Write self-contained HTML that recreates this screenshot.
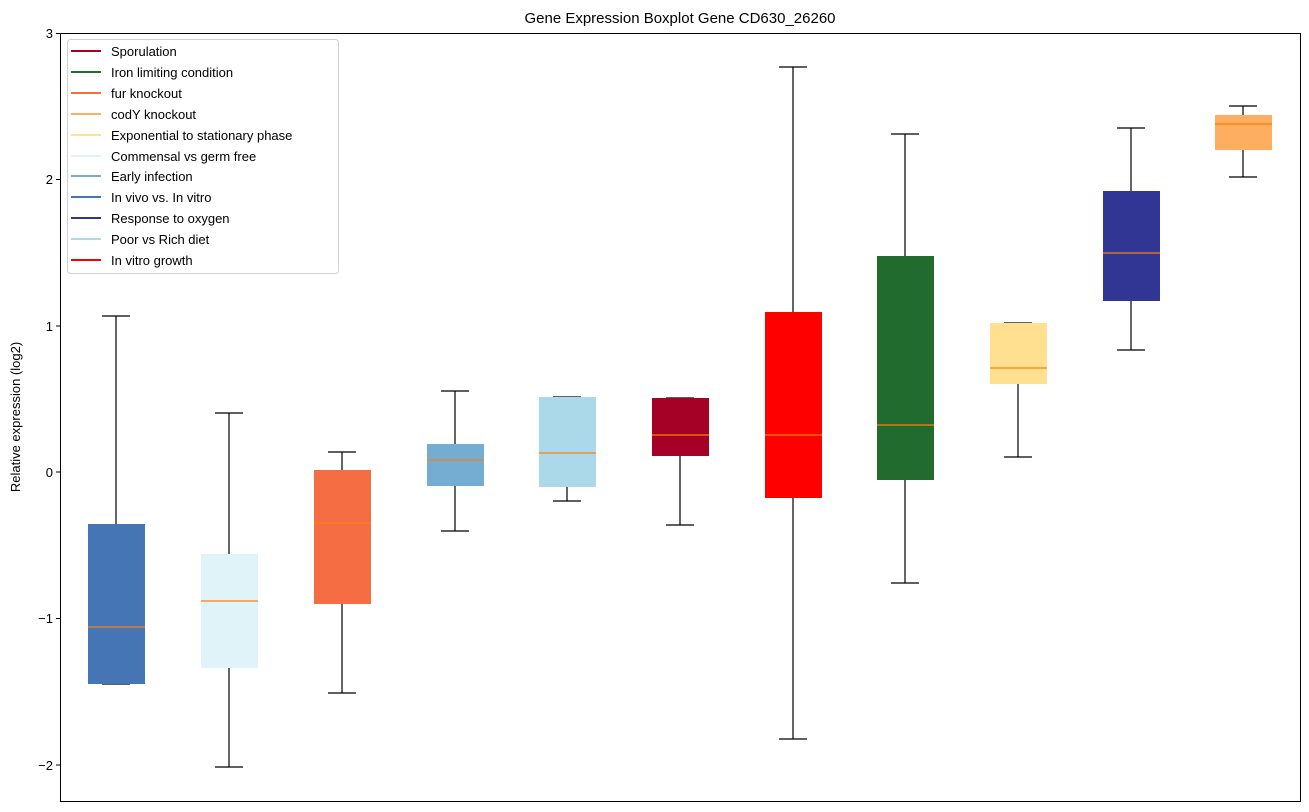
<!DOCTYPE html>
<html><head><meta charset="utf-8"><style>
body{margin:0;background:#fff;}
svg{display:block;font-family:"Liberation Sans","DejaVu Sans",sans-serif;}
</style></head><body>
<svg width="1309" height="812" viewBox="0 0 1309 812" xmlns="http://www.w3.org/2000/svg">
<rect width="1309" height="812" fill="#fff"/>
<text x="680" y="23" font-size="15" text-anchor="middle" fill="#000">Gene Expression Boxplot Gene CD630_26260</text>
<g stroke="#000" stroke-width="1.2" fill="none">
<line x1="116" y1="316" x2="116" y2="524"/><line x1="102" y1="316" x2="130" y2="316"/><line x1="102" y1="684" x2="130" y2="684"/>
<line x1="229" y1="413" x2="229" y2="554"/><line x1="229" y1="668" x2="229" y2="767"/><line x1="215" y1="413" x2="243" y2="413"/><line x1="215" y1="767" x2="243" y2="767"/>
<line x1="342" y1="452" x2="342" y2="470"/><line x1="342" y1="604" x2="342" y2="693"/><line x1="328" y1="452" x2="356" y2="452"/><line x1="328" y1="693" x2="356" y2="693"/>
<line x1="455" y1="391" x2="455" y2="444"/><line x1="455" y1="486" x2="455" y2="531"/><line x1="441" y1="391" x2="469" y2="391"/><line x1="441" y1="531" x2="469" y2="531"/>
<line x1="567" y1="487" x2="567" y2="501"/><line x1="553" y1="397" x2="581" y2="397"/><line x1="553" y1="501" x2="581" y2="501"/>
<line x1="680" y1="456" x2="680" y2="525"/><line x1="666" y1="398" x2="694" y2="398"/><line x1="666" y1="525" x2="694" y2="525"/>
<line x1="793" y1="67" x2="793" y2="312"/><line x1="793" y1="498" x2="793" y2="739"/><line x1="779" y1="67" x2="807" y2="67"/><line x1="779" y1="739" x2="807" y2="739"/>
<line x1="905" y1="134" x2="905" y2="256"/><line x1="905" y1="480" x2="905" y2="583"/><line x1="891" y1="134" x2="919" y2="134"/><line x1="891" y1="583" x2="919" y2="583"/>
<line x1="1018" y1="384" x2="1018" y2="457"/><line x1="1004" y1="323" x2="1032" y2="323"/><line x1="1004" y1="457" x2="1032" y2="457"/>
<line x1="1131" y1="128" x2="1131" y2="191"/><line x1="1131" y1="301" x2="1131" y2="350"/><line x1="1117" y1="128" x2="1145" y2="128"/><line x1="1117" y1="350" x2="1145" y2="350"/>
<line x1="1243" y1="106" x2="1243" y2="115"/><line x1="1243" y1="150" x2="1243" y2="177"/><line x1="1229" y1="106" x2="1257" y2="106"/><line x1="1229" y1="177" x2="1257" y2="177"/>
</g>
<g>
<rect x="88" y="524" width="57" height="160" fill="#4575b4"/>
<rect x="201" y="554" width="57" height="114" fill="#e0f3f8"/>
<rect x="314" y="470" width="57" height="134" fill="#f46d43"/>
<rect x="427" y="444" width="57" height="42" fill="#74add1"/>
<rect x="539" y="397" width="57" height="90" fill="#abd9e9"/>
<rect x="652" y="398" width="57" height="58" fill="#a50026"/>
<rect x="765" y="312" width="57" height="186" fill="#ff0000"/>
<rect x="877" y="256" width="57" height="224" fill="#226b2e"/>
<rect x="990" y="323" width="57" height="61" fill="#fee090"/>
<rect x="1103" y="191" width="57" height="110" fill="#313695"/>
<rect x="1215" y="115" width="57" height="35" fill="#fdae61"/>
</g>
<g stroke="#ff7f0e" stroke-width="1.3">
<line x1="88" y1="627" x2="145" y2="627"/>
<line x1="201" y1="601" x2="258" y2="601"/>
<line x1="314" y1="523" x2="371" y2="523"/>
<line x1="427" y1="460" x2="484" y2="460"/>
<line x1="539" y1="453" x2="596" y2="453"/>
<line x1="652" y1="435" x2="709" y2="435"/>
<line x1="765" y1="435" x2="822" y2="435"/>
<line x1="877" y1="425" x2="934" y2="425"/>
<line x1="990" y1="368" x2="1047" y2="368"/>
<line x1="1103" y1="253" x2="1160" y2="253"/>
<line x1="1215" y1="124" x2="1272" y2="124"/>
</g>
<rect x="60.5" y="33.5" width="1240" height="768" fill="none" stroke="#000" stroke-width="1"/>
<g stroke="#000" stroke-width="1">
<line x1="56" y1="33.5" x2="60" y2="33.5"/><line x1="56" y1="179.5" x2="60" y2="179.5"/><line x1="56" y1="326" x2="60" y2="326"/>
<line x1="56" y1="472" x2="60" y2="472"/><line x1="56" y1="618.5" x2="60" y2="618.5"/><line x1="56" y1="765" x2="60" y2="765"/>
</g>
<g font-size="13" text-anchor="end" fill="#000">
<text x="53" y="38">3</text><text x="53" y="184">2</text><text x="53" y="331">1</text>
<text x="53" y="477">0</text><text x="53" y="623">−1</text><text x="53" y="770">−2</text>
</g>
<text transform="translate(20,417) rotate(-90)" font-size="13" text-anchor="middle">Relative expression (log2)</text>
<rect x="67.5" y="39.5" width="271" height="234" rx="3" fill="#fff" fill-opacity="0.8" stroke="#d0d0d0"/>
<g stroke-width="2">
<line x1="71" y1="51" x2="101" y2="51" stroke="#a50026"/>
<line x1="71" y1="72" x2="101" y2="72" stroke="#226b2e"/>
<line x1="71" y1="93" x2="101" y2="93" stroke="#f46d43"/>
<line x1="71" y1="114" x2="101" y2="114" stroke="#fdae61"/>
<line x1="71" y1="135" x2="101" y2="135" stroke="#fee090"/>
<line x1="71" y1="156" x2="101" y2="156" stroke="#e0f3f8"/>
<line x1="71" y1="176" x2="101" y2="176" stroke="#74add1"/>
<line x1="71" y1="197" x2="101" y2="197" stroke="#4575b4"/>
<line x1="71" y1="218" x2="101" y2="218" stroke="#313695"/>
<line x1="71" y1="239" x2="101" y2="239" stroke="#abd9e9"/>
<line x1="71" y1="260" x2="101" y2="260" stroke="#ff0000"/>
</g>
<g font-size="13" fill="#000">
<text x="111" y="56">Sporulation</text>
<text x="111" y="77">Iron limiting condition</text>
<text x="111" y="98">fur knockout</text>
<text x="111" y="119">codY knockout</text>
<text x="111" y="140">Exponential to stationary phase</text>
<text x="111" y="161">Commensal vs germ free</text>
<text x="111" y="181">Early infection</text>
<text x="111" y="202">In vivo vs. In vitro</text>
<text x="111" y="223">Response to oxygen</text>
<text x="111" y="244">Poor vs Rich diet</text>
<text x="111" y="265">In vitro growth</text>
</g>
</svg>
</body></html>
